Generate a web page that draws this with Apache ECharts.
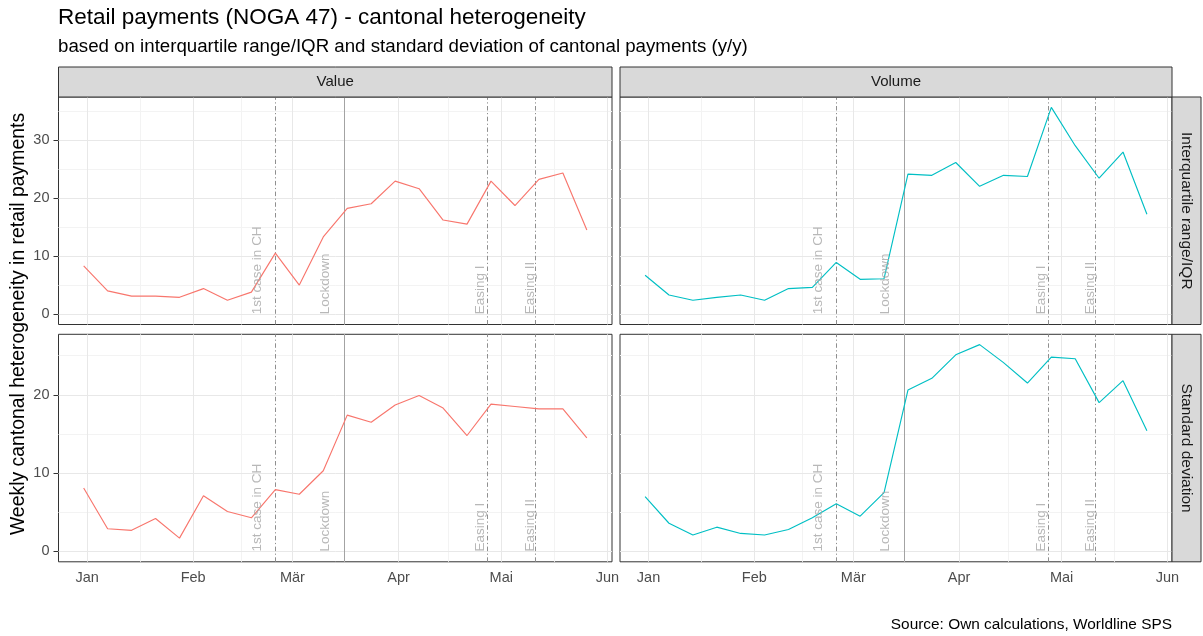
<!DOCTYPE html>
<html><head><meta charset="utf-8">
<script src="https://cdn.jsdelivr.net/npm/echarts@6/dist/echarts.min.js"></script>
<style>html,body{margin:0;padding:0;background:#fff}#c{width:1203px;height:636px}</style>
</head><body><div id="c"></div>
<script>
// ---------- data ----------
const dates = ['2019-12-31','2020-01-07','2020-01-14','2020-01-21','2020-01-28','2020-02-04','2020-02-11',
  '2020-02-18','2020-02-25','2020-03-03','2020-03-10','2020-03-17','2020-03-24','2020-03-31','2020-04-07',
  '2020-04-14','2020-04-21','2020-04-28','2020-05-05','2020-05-12','2020-05-19','2020-05-26'];
const valueIQR  = [8.3,4.0,3.1,3.1,2.9,4.4,2.4,3.8,10.5,5.0,13.3,18.2,19.0,22.9,21.6,16.2,15.5,22.9,18.7,23.2,24.3,14.5];
const volumeIQR = [6.7,3.3,2.4,2.9,3.3,2.4,4.4,4.6,8.9,6.0,6.1,24.1,23.9,26.1,22.0,23.9,23.7,35.6,29.0,23.4,27.9,17.2];
const valueSD   = [8.1,2.9,2.7,4.2,1.7,7.1,5.1,4.3,7.9,7.3,10.3,17.4,16.5,18.7,19.9,18.3,14.8,18.8,18.5,18.2,18.2,14.5];
const volumeSD  = [7.0,3.6,2.1,3.1,2.3,2.1,2.8,4.3,6.1,4.5,7.5,20.6,22.1,25.1,26.4,24.1,21.5,24.8,24.6,19.0,21.8,15.4];

const eventDates  = ['2020-02-25','2020-03-16','2020-04-27','2020-05-11'];
const eventDashed = [true,false,true,true];
const eventLabels = ['1st case in CH','Lockdown','Easing I','Easing II'];
const eventLabelDates = ['2020-02-19T18:00','2020-03-10T12:00','2020-04-24T22:00','2020-05-09T10:00'];

const monthTicks  = ['2020-01-01','2020-02-01','2020-03-01','2020-04-01','2020-05-01','2020-06-01'];
const monthLabels = ['Jan','Feb','Mär','Apr','Mai','Jun'];
const monthMinor  = ['2020-01-16T12:00','2020-02-15','2020-03-16','2020-04-15T12:00','2020-05-16T12:00'];
const yTicksTop = [0,10,20,30], yMinorTop = [5,15,25,35];
const yTicksBot = [0,10,20],    yMinorBot = [5,15,25];

const colLabels = ['Value','Volume'];
const rowLabels = ['Interquartile range/IQR','Standard deviation'];

// ---------- helpers ----------
const ts = s => Date.parse(s.length === 10 ? s + 'T00:00:00Z' : s + ':00Z');
const xT = dates.map(ts);
const span = xT[xT.length-1] - xT[0];
const xMin = xT[0] - 0.05*span, xMax = xT[xT.length-1] + 0.05*span;
function yRange(arrs){ const mx = Math.max(...arrs.flat()), mn = 0; const p = 0.05*(mx-mn); return [mn-p, mx+p]; }
const rTop = yRange([valueIQR, volumeIQR]);
const rBot = yRange([valueSD, volumeSD]);

const FONT = 'Liberation Sans, Arial, sans-serif';
const cols = [{left:58.5, width:553.5},{left:620, width:552}];
const rows = [{top:97, height:227.5},{top:334.3, height:227.5}];
const panels = [
  {r:0,c:0,data:valueIQR, color:'#F8766D'},
  {r:0,c:1,data:volumeIQR,color:'#00BFC4'},
  {r:1,c:0,data:valueSD,  color:'#F8766D'},
  {r:1,c:1,data:volumeSD, color:'#00BFC4'}
];
const mT = monthTicks.map(ts);
function monthName(v){ let k=0,b=Infinity; mT.forEach((t,j)=>{const d=Math.abs(t-v); if(d<b){b=d;k=j;}}); return monthLabels[k]; }

const grids=[], xAxes=[], yAxes=[], series=[];
panels.forEach((p,i)=>{
  grids.push({left:cols[p.c].left, top:rows[p.r].top, width:cols[p.c].width, height:rows[p.r].height,
    show:true, borderColor:'#333333', borderWidth:1, backgroundColor:'#fff', containLabel:false, outerBoundsMode:'none'});
  const bottom = p.r===1, leftCol = p.c===0;
  xAxes.push({type:'value', gridIndex:i, min:xMin, max:xMax, scale:true,
    axisLine:{show:false}, splitLine:{show:false},
    axisTick:{show:bottom, customValues:mT, length:5, lineStyle:{color:'#333333', width:1}},
    axisLabel:{show:bottom, customValues:mT, margin:9, color:'#4d4d4d', fontSize:14.5, fontFamily:FONT,
      formatter:(v)=>monthName(v)}
  });
  const yt = p.r===0 ? yTicksTop : yTicksBot;
  const ym = p.r===0 ? yMinorTop : yMinorBot;
  const rg = p.r===0 ? rTop : rBot;
  yAxes.push({type:'value', gridIndex:i, min:rg[0], max:rg[1],
    axisLine:{show:false}, splitLine:{show:false},
    axisTick:{show:leftCol, customValues:yt, length:5, lineStyle:{color:'#333333', width:1}},
    axisLabel:{show:leftCol, customValues:yt, margin:9, color:'#4d4d4d', fontSize:14.5, fontFamily:FONT}
  });
  const gl = [];
  const minorStyle = {color:'#f3f3f3', width:1, type:'solid'};
  const majorStyle = {color:'#e8e8e8', width:1, type:'solid'};
  monthMinor.forEach(d=>gl.push({xAxis:ts(d), lineStyle:minorStyle}));
  ym.forEach(v=>gl.push({yAxis:v, lineStyle:minorStyle}));
  monthTicks.forEach(d=>gl.push({xAxis:ts(d), lineStyle:majorStyle}));
  yt.forEach(v=>gl.push({yAxis:v, lineStyle:majorStyle}));
  series.push({type:'line', xAxisIndex:i, yAxisIndex:i, data:[], silent:true, z:1,
    markLine:{silent:true, z:1, animation:false, symbol:['none','none'], label:{show:false},
      lineStyle:{type:'solid'}, data:gl}});
  series.push({type:'line', xAxisIndex:i, yAxisIndex:i, data:[], silent:true, z:3,
    markLine:{silent:true, z:3, animation:false, symbol:['none','none'], label:{show:false},
      data:eventDates.map((d,k)=>({xAxis:ts(d), lineStyle:{color: eventDashed[k]?'#8f8f8f':'#a3a3a3', width:1, type: eventDashed[k]?[4.5,2.5,1.2,2.5]:'solid'}}))}});
  series.push({type:'line', xAxisIndex:i, yAxisIndex:i, z:4, symbol:'none', animation:false,
    data: xT.map((t,k)=>[t, p.data[k]]), lineStyle:{color:p.color, width:1.15}, itemStyle:{color:p.color}});
  series.push({type:'scatter', xAxisIndex:i, yAxisIndex:i, z:5, symbolSize:1, animation:false, silent:true,
    itemStyle:{color:'rgba(0,0,0,0)'},
    data: eventLabels.map((l,k)=>({name:l, value:[ts(eventLabelDates[k]), 0]})),
    label:{show:true, formatter:'{b}', position:'inside', rotate:90, align:'left', verticalAlign:'middle',
      color:'#a6a6a6', fontSize:13.5, fontFamily:FONT}});
});

const graphic = [];
cols.forEach((c,j)=>{
  graphic.push({type:'rect', shape:{x:c.left, y:67, width:c.width, height:30}, style:{fill:'#d9d9d9', stroke:'#333333', lineWidth:1}, z:10});
  graphic.push({type:'text', x:c.left+c.width/2, y:82, style:{text:colLabels[j], fill:'#1a1a1a', fontSize:15, fontFamily:FONT, align:'center', verticalAlign:'middle'}, z:11});
});
rows.forEach((r,j)=>{
  graphic.push({type:'rect', shape:{x:1172, y:r.top, width:29, height:r.height}, style:{fill:'#d9d9d9', stroke:'#333333', lineWidth:1}, z:10});
  graphic.push({type:'text', x:1186.5, y:r.top+r.height/2, rotation:-Math.PI/2, style:{text:rowLabels[j], fill:'#1a1a1a', fontSize:15.5, fontFamily:FONT, align:'center', verticalAlign:'middle'}, z:11});
});
graphic.push({type:'text', x:58, y:18, style:{text:'Retail payments (NOGA 47) - cantonal heterogeneity', fill:'#000', fontSize:22.5, fontFamily:FONT, align:'left', verticalAlign:'middle'}});
graphic.push({type:'text', x:58, y:47, style:{text:'based on interquartile range/IQR and standard deviation of cantonal payments (y/y)', fill:'#000', fontSize:18.7, fontFamily:FONT, align:'left', verticalAlign:'middle'}});
graphic.push({type:'text', x:19, y:324, rotation:Math.PI/2, style:{text:'Weekly cantonal heterogeneity in retail payments', fill:'#000', fontSize:19.4, fontFamily:FONT, align:'center', verticalAlign:'middle'}});
graphic.push({type:'text', x:1172, y:625, style:{text:'Source: Own calculations, Worldline SPS', fill:'#000', fontSize:15.4, fontFamily:FONT, align:'right', verticalAlign:'middle'}});

const chart = echarts.init(document.getElementById('c'), null, {renderer:'canvas'});
chart.setOption({
  animation:false, backgroundColor:'#ffffff',
  textStyle:{fontFamily:FONT},
  grid:grids, xAxis:xAxes, yAxis:yAxes, series:series, graphic:graphic
});
</script></body></html>
